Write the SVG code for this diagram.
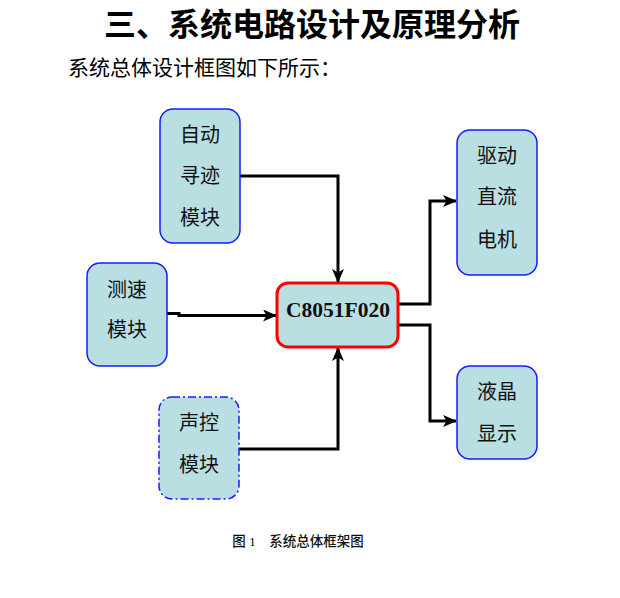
<svg xmlns="http://www.w3.org/2000/svg" width="620" height="598" viewBox="0 0 620 598">
<style>
.box{fill:#b9dfe3;stroke:#1a1aff;stroke-width:1.5}
.dash{stroke-dasharray:8,3,2,3}
.cpu{fill:#b9dfe3;stroke:#ff0000;stroke-width:3}
.t{font-family:"Noto Sans CJK SC","Noto Sans CJK JP",sans-serif;font-size:20px;font-weight:400;fill:#111;text-anchor:middle}
.c{fill:none;stroke:#000;stroke-width:3}
</style>
<defs>
<marker id="ah" viewBox="0 0 14 12" refX="13" refY="6" markerWidth="14" markerHeight="12" markerUnits="userSpaceOnUse" orient="auto">
<path d="M0,0 L14,6 L0,12 L3.5,6 Z" fill="#000"/>
</marker>
</defs>
<text x="312" y="36" font-family="Noto Sans CJK SC,sans-serif" font-size="32" font-weight="bold" text-anchor="middle" fill="#000">三、系统电路设计及原理分析</text>
<text x="68" y="75" font-family="Noto Sans CJK SC,sans-serif" font-size="21" fill="#000">系统总体设计框图如下所示：</text>
<g id="connectors">
<path class="c" d="M240,176 H338 V282" marker-end="url(#ah)"/>
<path class="c" d="M167,313.5 H179 V315.5 H276" marker-end="url(#ah)"/>
<path class="c" d="M239,449 H338 V348" marker-end="url(#ah)"/>
<path class="c" d="M398,304 H430 V201 H456" marker-end="url(#ah)"/>
<path class="c" d="M398,325 H430 V421 H456" marker-end="url(#ah)"/>
</g>
<g id="auto">
<rect class="box" x="160" y="109" width="80" height="134" rx="13"/>
<text class="t" x="200" y="142">自动</text>
<text class="t" x="200" y="183">寻迹</text>
<text class="t" x="200" y="225">模块</text>
</g>
<g id="speed">
<rect class="box" x="87" y="263" width="80" height="103" rx="13"/>
<text class="t" x="127" y="297">测速</text>
<text class="t" x="127" y="337">模块</text>
</g>
<g id="voice">
<rect class="box dash" x="159" y="397" width="80" height="102" rx="13"/>
<text class="t" x="199" y="430">声控</text>
<text class="t" x="199" y="472">模块</text>
</g>
<g id="cpu">
<rect class="cpu" x="277" y="283" width="121" height="64" rx="11"/>
<text x="338" y="317" font-family="Liberation Serif,serif" font-size="21.5" font-weight="bold" text-anchor="middle" fill="#111">C8051F020</text>
</g>
<g id="motor">
<rect class="box" x="457" y="130" width="80" height="145" rx="13"/>
<text class="t" x="497" y="163">驱动</text>
<text class="t" x="497" y="204">直流</text>
<text class="t" x="497" y="247">电机</text>
</g>
<g id="lcd">
<rect class="box" x="457" y="366" width="80" height="93" rx="13"/>
<text class="t" x="497" y="399">液晶</text>
<text class="t" x="497" y="441">显示</text>
</g>
<text x="298" y="546" font-family="Liberation Serif,Noto Sans CJK SC,serif" font-size="13.5" font-weight="500" text-anchor="middle" fill="#111" xml:space="preserve">图 1    系统总体框架图</text>
</svg>
